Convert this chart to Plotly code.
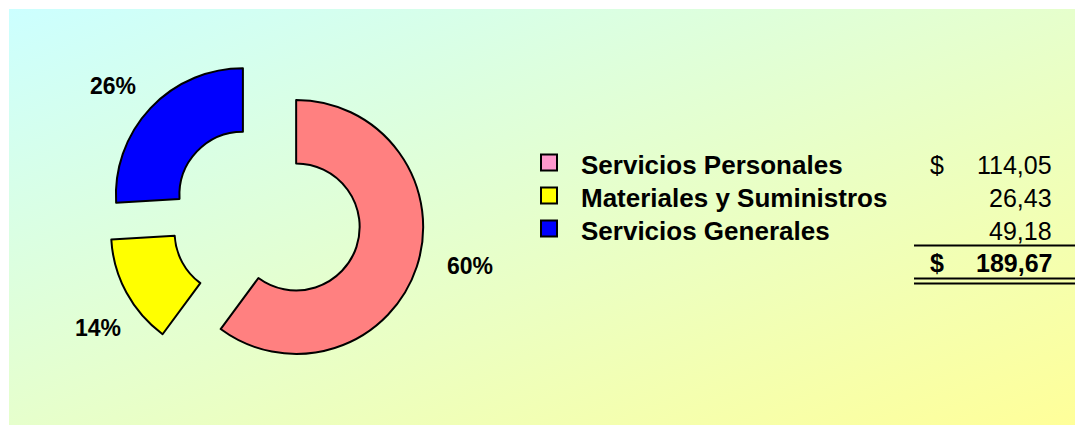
import base64
import plotly.graph_objects as go

# ---------------- data ----------------
categories = ["Servicios Personales", "Materiales y Suministros", "Servicios Generales"]
values = [114.05, 26.43, 49.18]
total_value = 189.67          # total as printed in the table
slice_colors = ["#FF8080", "#FFFF00", "#0000FF"]
legend_colors = ["#FF99CC", "#FFFF00", "#0000FF"]
currency = "$"

# page is 1083x426, the html body has an 8px margin
OFF = 8
W, H = 1083 - OFF, 426 - OFF
FONT = "Liberation Sans, Arial, sans-serif"


def px(x):
    return (x - OFF) / W


def py(y):
    return 1 - (y - OFF) / H


def fmt(v):
    return f"{v:.2f}".replace(".", ",")


total = sum(values)
pcts = [f"{round(v / total * 100)}%" for v in values]

# pie geometry (page pixels)
cx, cy, r, pull = 266, 217, 127, 0.25
half = r * (1 + pull)

fig = go.Figure()
fig.add_trace(go.Pie(
    labels=categories,
    values=values,
    sort=False,
    direction="clockwise",
    rotation=0,
    hole=0.5,
    pull=[pull] * len(values),
    marker=dict(colors=slice_colors, line=dict(color="black", width=2)),
    textinfo="none",
    hoverinfo="none",
    domain=dict(x=[px(cx - half), px(cx + half)], y=[py(cy + half), py(cy - half)]),
    showlegend=False,
))

# percentage labels
label_pos = [(470, 266), (98, 328), (113, 86)]
annotations = []
for (lx, ly), t in zip(label_pos, pcts):
    annotations.append(dict(x=px(lx), y=py(ly), xref="paper", yref="paper", text=f"<b>{t}</b>",
                            showarrow=False, xanchor="center", yanchor="middle",
                            font=dict(family=FONT, size=23, color="black")))

# legend table
row_y = [165, 198, 231]
shapes = []
for i, (cat, v, col) in enumerate(zip(categories, values, legend_colors)):
    yc = row_y[i]
    sq_c = yc - 2.5
    shapes.append(dict(type="rect", xref="paper", yref="paper",
                       x0=px(541), x1=px(557), y0=py(sq_c + 8), y1=py(sq_c - 8),
                       fillcolor=col, line=dict(color="black", width=2)))
    annotations.append(dict(x=px(579), y=py(yc), xref="paper", yref="paper", text=f"<b>{cat}</b>",
                            showarrow=False, xanchor="left", yanchor="middle",
                            font=dict(family=FONT, size=26, color="black")))
    if i == 0:
        annotations.append(dict(x=px(928), y=py(yc), xref="paper", yref="paper", text=currency,
                                showarrow=False, xanchor="left", yanchor="middle",
                                font=dict(family=FONT, size=25, color="black")))
    annotations.append(dict(x=px(1054), y=py(yc), xref="paper", yref="paper", text=fmt(v),
                            showarrow=False, xanchor="right", yanchor="middle",
                            font=dict(family=FONT, size=25, color="black")))

# total row
ty = 263
annotations.append(dict(x=px(928), y=py(ty), xref="paper", yref="paper", text=f"<b>{currency}</b>",
                        showarrow=False, xanchor="left", yanchor="middle",
                        font=dict(family=FONT, size=25, color="black")))
annotations.append(dict(x=px(1054), y=py(ty), xref="paper", yref="paper", text=f"<b>{fmt(total_value)}</b>",
                        showarrow=False, xanchor="right", yanchor="middle",
                        font=dict(family=FONT, size=25, color="black")))
for ly in [245.5, 278.5, 283.5]:
    shapes.append(dict(type="line", xref="paper", yref="paper",
                       x0=px(914), x1=px(1083), y0=py(ly), y1=py(ly),
                       line=dict(color="black", width=2)))

# background gradient (page px 9..1083 x 9..425)
bx0, by0, bx1, by1 = 9, 9, 1083, 425
bw, bh = bx1 - bx0, by1 - by0
svg = (f'<svg xmlns="http://www.w3.org/2000/svg" width="{bw}" height="{bh}" viewBox="0 0 {bw} {bh}" '
       f'preserveAspectRatio="none"><defs><linearGradient id="g" x1="0" y1="0" x2="1" y2="1">'
       f'<stop offset="0" stop-color="#CCFFFF"/><stop offset="0.5" stop-color="#E6FFCC"/>'
       f'<stop offset="1" stop-color="#FFFF99"/></linearGradient></defs>'
       f'<rect x="0" y="0" width="{bw}" height="{bh}" fill="url(#g)"/></svg>')
src = "data:image/svg+xml;base64," + base64.b64encode(svg.encode()).decode()

fig.update_layout(
    width=W, height=H,
    margin=dict(l=0, r=0, t=0, b=0),
    paper_bgcolor="white",
    plot_bgcolor="white",
    shapes=shapes,
    annotations=annotations,
    images=[dict(source=src, xref="paper", yref="paper", x=px(bx0), y=py(by0),
                 sizex=bw / W, sizey=bh / H, sizing="stretch", xanchor="left", yanchor="top",
                 layer="below")],
)

fig.write_html("out.html")
